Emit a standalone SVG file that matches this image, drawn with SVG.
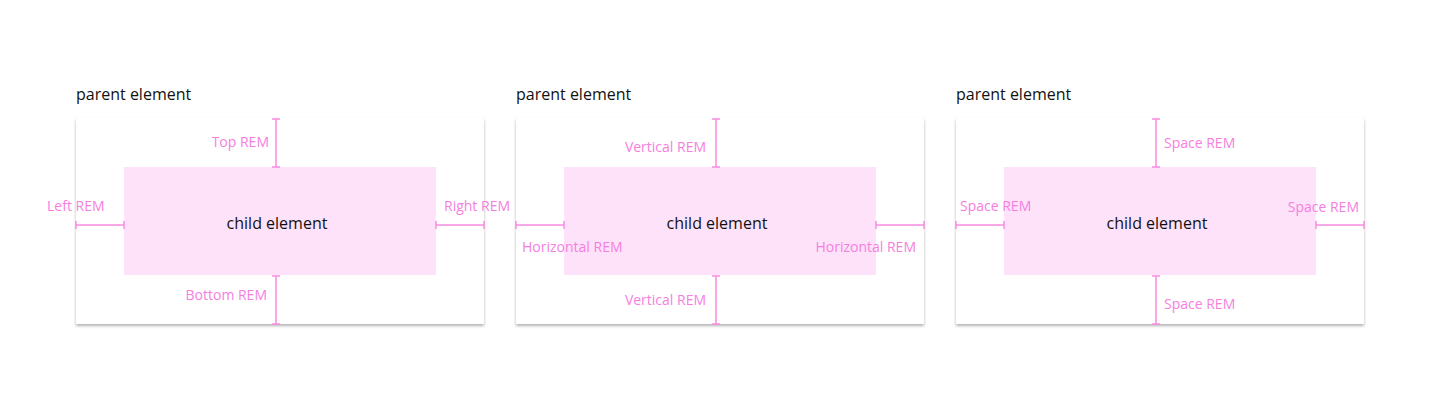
<svg xmlns="http://www.w3.org/2000/svg" width="1440" height="400" viewBox="0 0 1440 400">
<defs>
<filter id="sh" x="-5%" y="-5%" width="110%" height="115%"><feDropShadow dx="0" dy="2" stdDeviation="1.5" flood-color="#000" flood-opacity="0.3"/></filter>
<marker id="t" viewBox="-1 -5 2 10" markerWidth="2" markerHeight="10" refX="0" refY="0" orient="auto" markerUnits="userSpaceOnUse"><line x1="0" y1="-4" x2="0" y2="4" stroke="#f98be0" stroke-width="1.5"/></marker>
</defs>
<style>
.p{fill:#fff;filter:url(#sh)}
.c{fill:#fde2fa}
.h{font-family:"Open Sans","Liberation Sans",sans-serif;font-size:16px;fill:#111}
.l{font-family:"Open Sans","Liberation Sans",sans-serif;font-size:14px;fill:#f67ee0}
.k{stroke:#f98be0;stroke-width:1.5;marker-start:url(#t);marker-end:url(#t)}
</style>
<g id="panel1">
<text class="h" x="76" y="100">parent element</text>
<rect class="p" x="76" y="118" width="408" height="206"/>
<rect class="c" x="124" y="167" width="312" height="108"/>
<text class="h" x="277" y="229" text-anchor="middle">child element</text>
</g>
<g id="panel2">
<text class="h" x="516" y="100">parent element</text>
<rect class="p" x="516" y="118" width="408" height="206"/>
<rect class="c" x="564" y="167" width="312" height="108"/>
<text class="h" x="717" y="229" text-anchor="middle">child element</text>
</g>
<g id="panel3">
<text class="h" x="956" y="100">parent element</text>
<rect class="p" x="956" y="118" width="408" height="206"/>
<rect class="c" x="1004" y="167" width="312" height="108"/>
<text class="h" x="1157" y="229" text-anchor="middle">child element</text>
</g>
<g id="connectors">
<line class="k" x1="276" y1="119" x2="276" y2="167"/>
<line class="k" x1="276" y1="276" x2="276" y2="324"/>
<line class="k" x1="76" y1="225" x2="124" y2="225"/>
<line class="k" x1="436" y1="225" x2="484" y2="225"/>
<line class="k" x1="716" y1="119" x2="716" y2="167"/>
<line class="k" x1="716" y1="276" x2="716" y2="324"/>
<line class="k" x1="516" y1="225" x2="564" y2="225"/>
<line class="k" x1="876" y1="225" x2="924" y2="225"/>
<line class="k" x1="1156" y1="119" x2="1156" y2="167"/>
<line class="k" x1="1156" y1="276" x2="1156" y2="324"/>
<line class="k" x1="956" y1="225" x2="1004" y2="225"/>
<line class="k" x1="1316" y1="225" x2="1364" y2="225"/>
</g>
<g id="labels">
<text class="l" x="269" y="147" text-anchor="end">Top REM</text>
<text class="l" x="267" y="300" text-anchor="end">Bottom REM</text>
<text class="l" x="47" y="211">Left REM</text>
<text class="l" x="444" y="211">Right REM</text>
<text class="l" x="706" y="152" text-anchor="end">Vertical REM</text>
<text class="l" x="706" y="305" text-anchor="end">Vertical REM</text>
<text class="l" x="522" y="252">Horizontal REM</text>
<text class="l" x="916" y="252" text-anchor="end">Horizontal REM</text>
<text class="l" x="1164" y="148">Space REM</text>
<text class="l" x="1164" y="309">Space REM</text>
<text class="l" x="960" y="211">Space REM</text>
<text class="l" x="1359" y="212" text-anchor="end">Space REM</text>
</g>
</svg>
